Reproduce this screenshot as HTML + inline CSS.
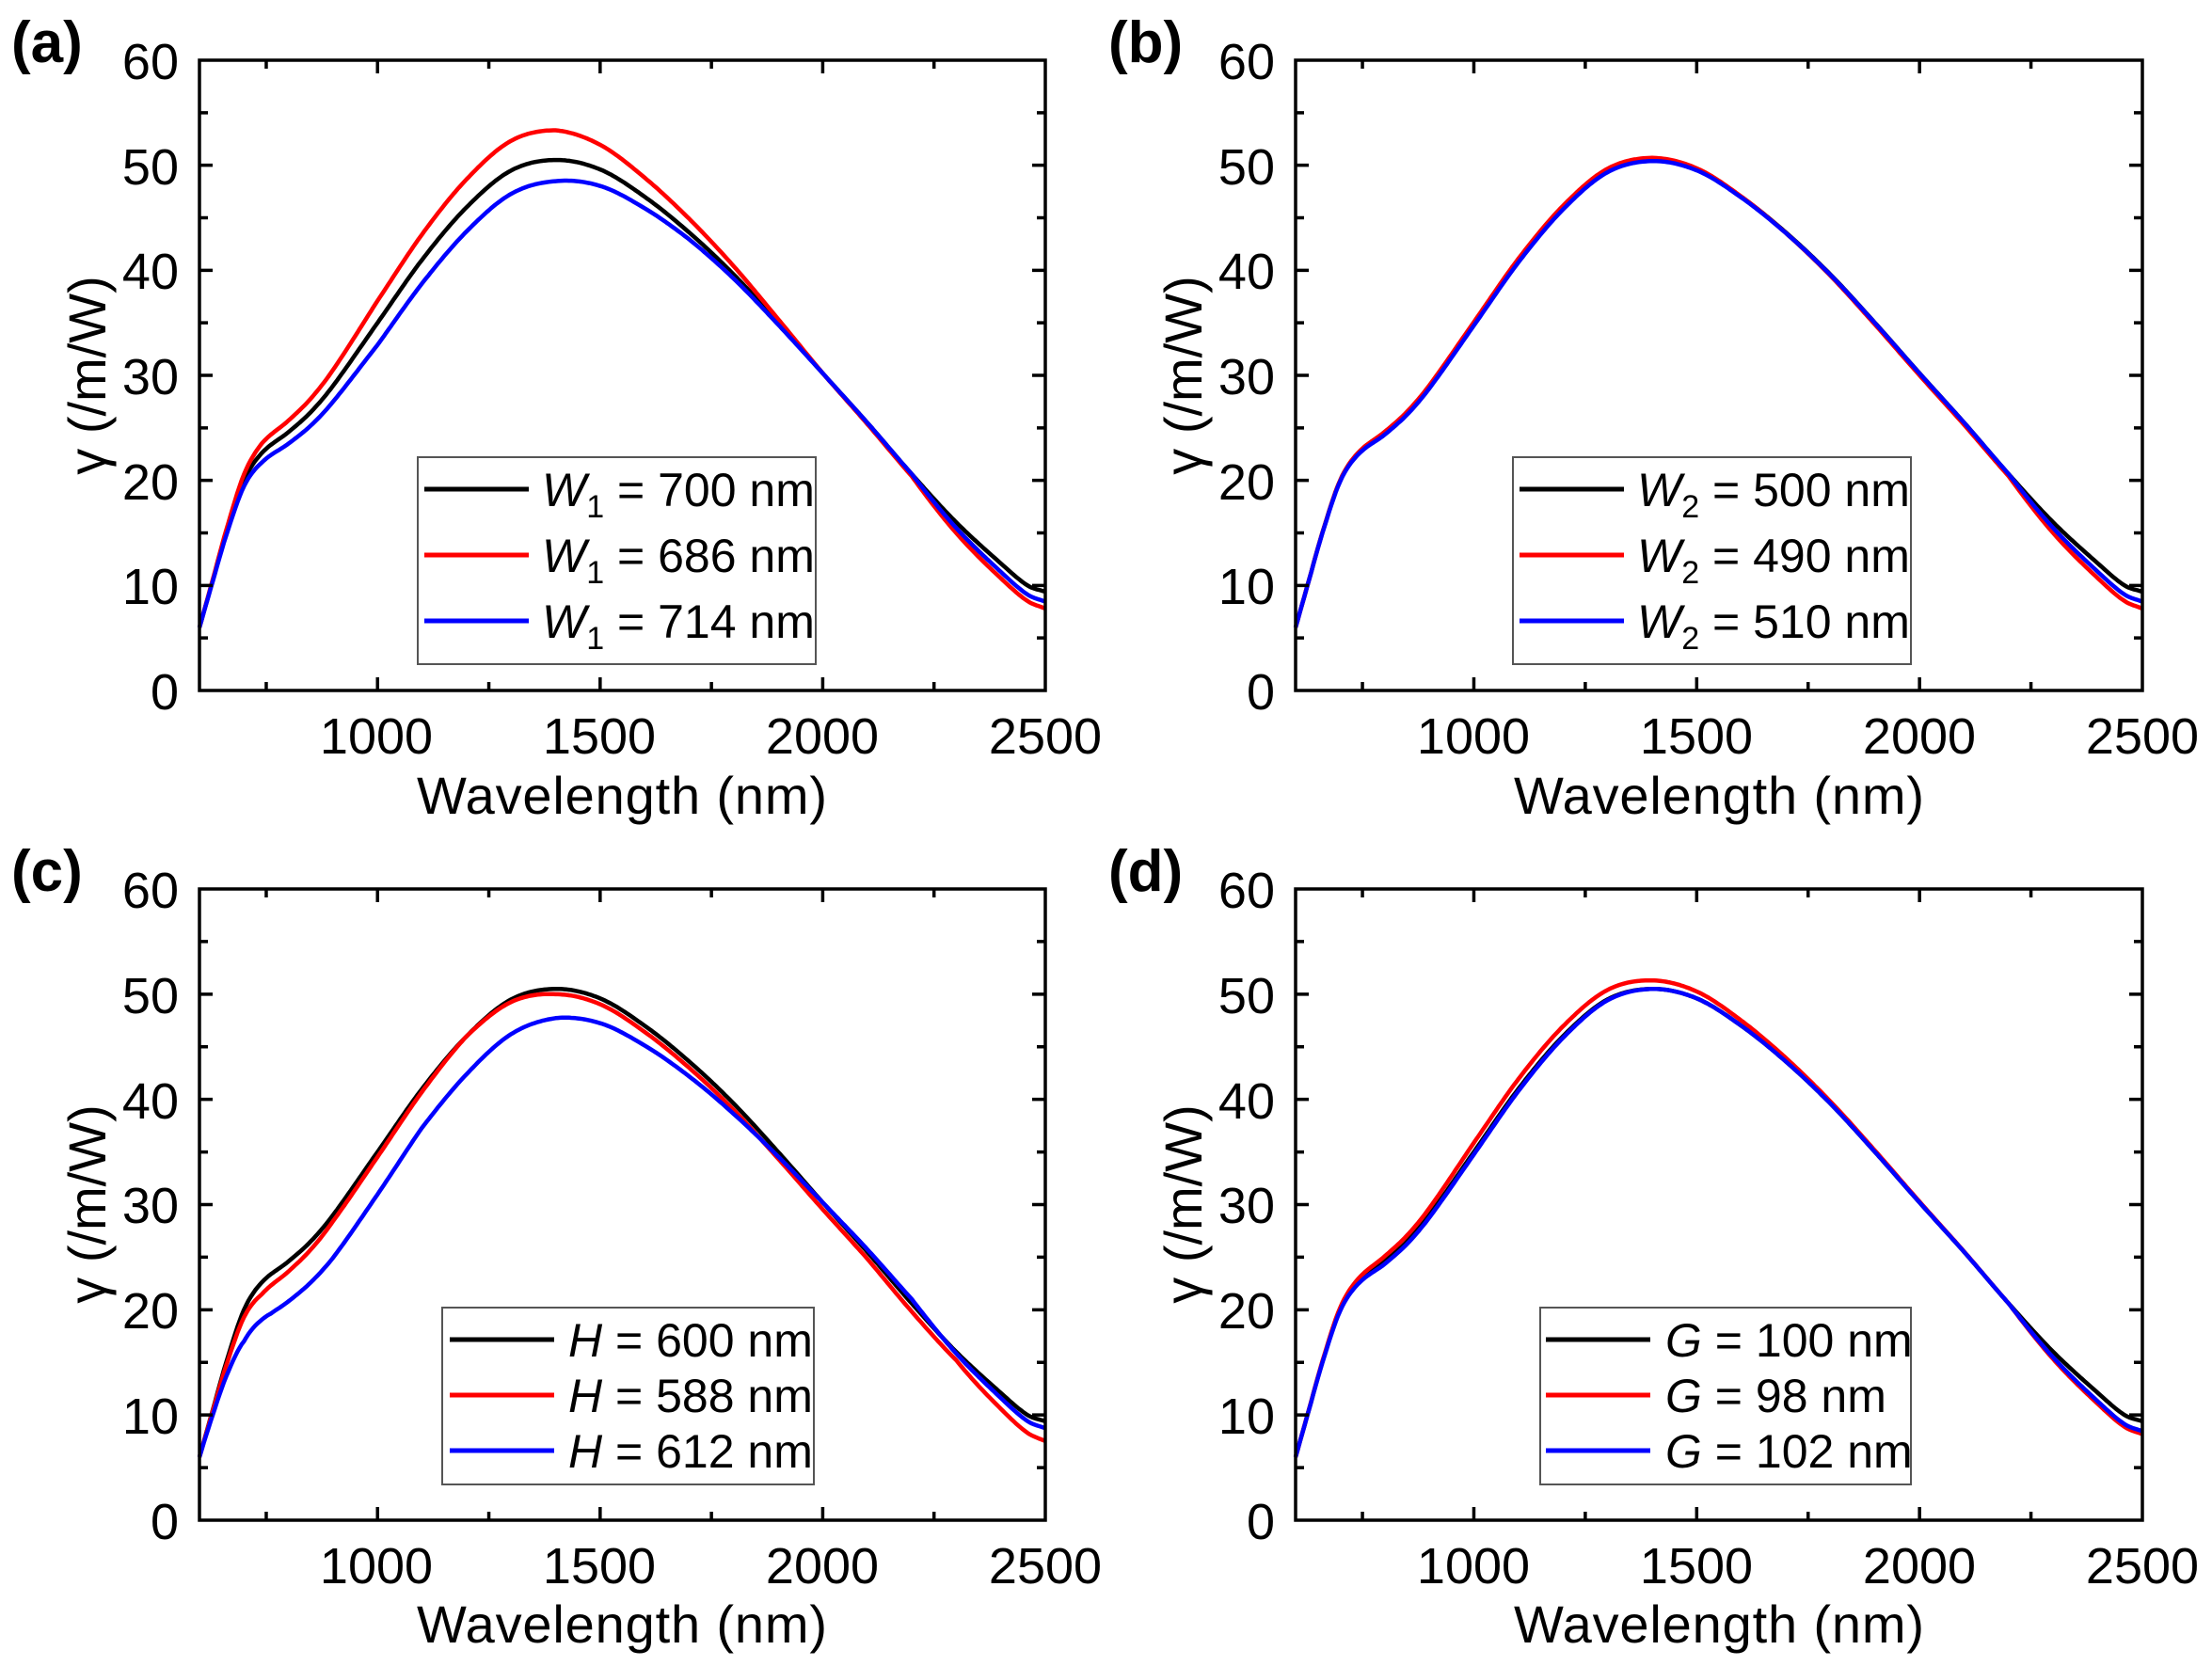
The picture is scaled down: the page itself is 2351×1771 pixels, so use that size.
<!DOCTYPE html>
<html><head><meta charset="utf-8"><style>
html,body{margin:0;padding:0;background:#fff}
svg{display:block}
text{font-family:"Liberation Sans",Arial,sans-serif;fill:#000}
</style></head><body>
<svg id="s" width="2351" height="1771" viewBox="0 0 2351 1771" xmlns="http://www.w3.org/2000/svg">
<rect width="2351" height="1771" fill="#fff"/>
<g id="curves"></g>
<g id="axes" fill="none" stroke="#000" stroke-width="3.5"></g>
<g font-size="62" font-weight="bold">
<text x="12" y="66">(a)</text>
<text x="1178" y="66">(b)</text>
<text x="12" y="947">(c)</text>
<text x="1178" y="947">(d)</text>
</g>
<g font-size="50">
<rect x="444" y="486" width="423" height="220" fill="#fff" stroke="#555" stroke-width="2"/>
<line x1="451" y1="520" x2="562" y2="520" stroke="#000" stroke-width="5"/>
<line x1="451" y1="590" x2="562" y2="590" stroke="#f00" stroke-width="5"/>
<line x1="451" y1="660" x2="562" y2="660" stroke="#00f" stroke-width="5"/>
<text x="576" y="538"><tspan font-style="italic">W</tspan><tspan font-size="34" dy="12">1</tspan><tspan dy="-12"> = 700 nm</tspan></text>
<text x="576" y="608"><tspan font-style="italic">W</tspan><tspan font-size="34" dy="12">1</tspan><tspan dy="-12"> = 686 nm</tspan></text>
<text x="576" y="678"><tspan font-style="italic">W</tspan><tspan font-size="34" dy="12">1</tspan><tspan dy="-12"> = 714 nm</tspan></text>

<rect x="1608" y="486" width="423" height="220" fill="#fff" stroke="#555" stroke-width="2"/>
<line x1="1615" y1="520" x2="1726" y2="520" stroke="#000" stroke-width="5"/>
<line x1="1615" y1="590" x2="1726" y2="590" stroke="#f00" stroke-width="5"/>
<line x1="1615" y1="660" x2="1726" y2="660" stroke="#00f" stroke-width="5"/>
<text x="1740" y="538"><tspan font-style="italic">W</tspan><tspan font-size="34" dy="12">2</tspan><tspan dy="-12"> = 500 nm</tspan></text>
<text x="1740" y="608"><tspan font-style="italic">W</tspan><tspan font-size="34" dy="12">2</tspan><tspan dy="-12"> = 490 nm</tspan></text>
<text x="1740" y="678"><tspan font-style="italic">W</tspan><tspan font-size="34" dy="12">2</tspan><tspan dy="-12"> = 510 nm</tspan></text>

<rect x="470" y="1390" width="395" height="188" fill="#fff" stroke="#555" stroke-width="2"/>
<line x1="478" y1="1424" x2="589" y2="1424" stroke="#000" stroke-width="5"/>
<line x1="478" y1="1483" x2="589" y2="1483" stroke="#f00" stroke-width="5"/>
<line x1="478" y1="1542" x2="589" y2="1542" stroke="#00f" stroke-width="5"/>
<text x="604" y="1442"><tspan font-style="italic">H</tspan> = 600 nm</text>
<text x="604" y="1501"><tspan font-style="italic">H</tspan> = 588 nm</text>
<text x="604" y="1560"><tspan font-style="italic">H</tspan> = 612 nm</text>

<rect x="1637" y="1390" width="394" height="188" fill="#fff" stroke="#555" stroke-width="2"/>
<line x1="1643" y1="1424" x2="1754" y2="1424" stroke="#000" stroke-width="5"/>
<line x1="1643" y1="1483" x2="1754" y2="1483" stroke="#f00" stroke-width="5"/>
<line x1="1643" y1="1542" x2="1754" y2="1542" stroke="#00f" stroke-width="5"/>
<text x="1770" y="1442"><tspan font-style="italic">G</tspan> = 100 nm</text>
<text x="1770" y="1501"><tspan font-style="italic">G</tspan> = 98 nm</text>
<text x="1770" y="1560"><tspan font-style="italic">G</tspan> = 102 nm</text>
</g>
<g font-size="56" text-anchor="middle">
<text x="661" y="865" textLength="436">Wavelength (nm)</text>
<text x="1827" y="865" textLength="436">Wavelength (nm)</text>
<text x="661" y="1746" textLength="436">Wavelength (nm)</text>
<text x="1827" y="1746" textLength="436">Wavelength (nm)</text>
<text transform="translate(112,399) rotate(-90)">γ (/m/W)</text>
<text transform="translate(1277,399) rotate(-90)">γ (/m/W)</text>
<text transform="translate(112,1280) rotate(-90)">γ (/m/W)</text>
<text transform="translate(1277,1280) rotate(-90)">γ (/m/W)</text>
</g>
<g font-size="54" text-anchor="end">
<text x="190" y="84">60</text><text x="190" y="196">50</text><text x="190" y="307">40</text><text x="190" y="419">30</text><text x="190" y="531">20</text><text x="190" y="642">10</text><text x="190" y="754">0</text>
<text x="1355" y="84">60</text><text x="1355" y="196">50</text><text x="1355" y="307">40</text><text x="1355" y="419">30</text><text x="1355" y="531">20</text><text x="1355" y="642">10</text><text x="1355" y="754">0</text>
<text x="190" y="965">60</text><text x="190" y="1077">50</text><text x="190" y="1189">40</text><text x="190" y="1300">30</text><text x="190" y="1412">20</text><text x="190" y="1524">10</text><text x="190" y="1636">0</text>
<text x="1355" y="965">60</text><text x="1355" y="1077">50</text><text x="1355" y="1189">40</text><text x="1355" y="1300">30</text><text x="1355" y="1412">20</text><text x="1355" y="1524">10</text><text x="1355" y="1636">0</text>
</g>
<g font-size="54" text-anchor="middle">
<text x="400" y="801">1000</text><text x="637" y="801">1500</text><text x="874" y="801">2000</text><text x="1111" y="801">2500</text>
<text x="1566" y="801">1000</text><text x="1803" y="801">1500</text><text x="2040" y="801">2000</text><text x="2277" y="801">2500</text>
<text x="400" y="1683">1000</text><text x="637" y="1683">1500</text><text x="874" y="1683">2000</text><text x="1111" y="1683">2500</text>
<text x="1566" y="1683">1000</text><text x="1803" y="1683">1500</text><text x="2040" y="1683">2000</text><text x="2277" y="1683">2500</text>
</g>
</svg>
<script>
(function(){
var NS="http://www.w3.org/2000/svg";
var panels=[{x0:212,x1:1111,yt:64,yb:734,k:'a'},{x0:1377,x1:2277,yt:64,yb:734,k:'b'},{x0:212,x1:1111,yt:945,yb:1616,k:'c'},{x0:1377,x1:2277,yt:945,yb:1616,k:'d'}];
var base=[[600,6],[630,10.5],[660,15],[700,20],[740,22.6],[800,24.6],[850,26.5],[900,29],[1000,35],[1100,41],[1200,46],[1300,49.5],[1400,50.5],[1500,49.6],[1600,47],[1700,43.6],[1800,39.6],[1900,35],[2000,30.2],[2100,25.5],[2200,20.6],[2300,16.0],[2400,12.1],[2460,10.0],[2500,9.4]];
function interp(pts,x){for(var i=0;i<pts.length-1;i++){if(x<=pts[i+1][0]){var a=pts[i],b=pts[i+1],t=(x-a[0])/(b[0]-a[0]);
var p0=pts[Math.max(i-1,0)],p3=pts[Math.min(i+2,pts.length-1)];
var m1=(b[1]-p0[1])/(b[0]-p0[0])*(b[0]-a[0]),m2=(p3[1]-a[1])/(p3[0]-a[0])*(b[0]-a[0]);
var t2=t*t,t3=t2*t;return (2*t3-3*t2+1)*a[1]+(t3-2*t2+t)*m1+(-2*t3+3*t2)*b[1]+(t3-t2)*m2;}}return pts[pts.length-1][1];}
function lin(pts,x){for(var i=0;i<pts.length-1;i++){if(x<=pts[i+1][0]){var a=pts[i],b=pts[i+1];return a[1]+(b[1]-a[1])*(x-a[0])/(b[0]-a[0]);}}return pts[pts.length-1][1];}
var mods={
a:[[[600,1],[2500,1]],[[600,1],[740,1.04],[1000,1.06],[1400,1.056],[1700,1.03],[2000,1.0],[2200,0.99],[2500,0.83]],[[600,1],[740,0.96],[1000,0.94],[1400,0.96],[1700,0.985],[2000,1.0],[2200,1.0],[2500,0.9]]],
b:[[[600,1],[2500,1]],[[600,1],[1400,1.004],[2200,0.99],[2500,0.83]],[[600,1],[800,0.99],[1400,0.998],[2200,1.0],[2500,0.9]]],
c:[[[600,1],[2500,1]],[[600,1],[740,0.95],[900,0.98],[1200,1],[1400,0.99],[1800,0.985],[2100,0.975],[2300,0.95],[2500,0.8]],[[600,1],[700,0.85],[760,0.84],[900,0.86],[1100,0.91],[1400,0.945],[1800,0.975],[2000,1.0],[2200,1.02],[2500,0.93]]],
d:[[[600,1],[2500,1]],[[600,1],[800,1.02],[1000,1.025],[1400,1.016],[1800,1.005],[2200,1.0],[2500,0.87]],[[600,1],[800,0.99],[1400,1.0],[2200,1.0],[2500,0.9]]]};
var cols=['#000','#f00','#00f'];
var cg=document.getElementById('curves'),ax=document.getElementById('axes');
function el(n,a,p){var e=document.createElementNS(NS,n);for(var k in a)e.setAttribute(k,a[k]);p.appendChild(e);return e;}
panels.forEach(function(P){
 var sx=function(w){return P.x0+(w-600)/1900*(P.x1-P.x0);},sy=function(v){return P.yb-v/60*(P.yb-P.yt);};
 [0,1,2].forEach(function(ci){var m=mods[P.k][ci];var d='';for(var w=600;w<=2500;w+=5){var v=interp(base,w)*lin(m,w);d+=(w==600?'M':'L')+sx(w).toFixed(1)+','+sy(v).toFixed(1);}
  el('path',{d:d,fill:'none',stroke:cols[ci],'stroke-width':4.5,'stroke-linejoin':'round'},cg);});
 el('rect',{x:P.x0,y:P.yt,width:P.x1-P.x0,height:P.yb-P.yt},ax);
 var d='';
 [750,1000,1250,1500,1750,2000,2250].forEach(function(w){var L=(w%500==0)?14:9;var x=sx(w);d+='M'+x+','+P.yb+'v'+(-L)+'M'+x+','+P.yt+'v'+L;});
 for(var v=5;v<60;v+=5){var L=(v%10==0)?14:9;var y=sy(v);d+='M'+P.x0+','+y+'h'+L+'M'+P.x1+','+y+'h'+(-L);}
 el('path',{d:d},ax);
});
})();
</script>
</body></html>
